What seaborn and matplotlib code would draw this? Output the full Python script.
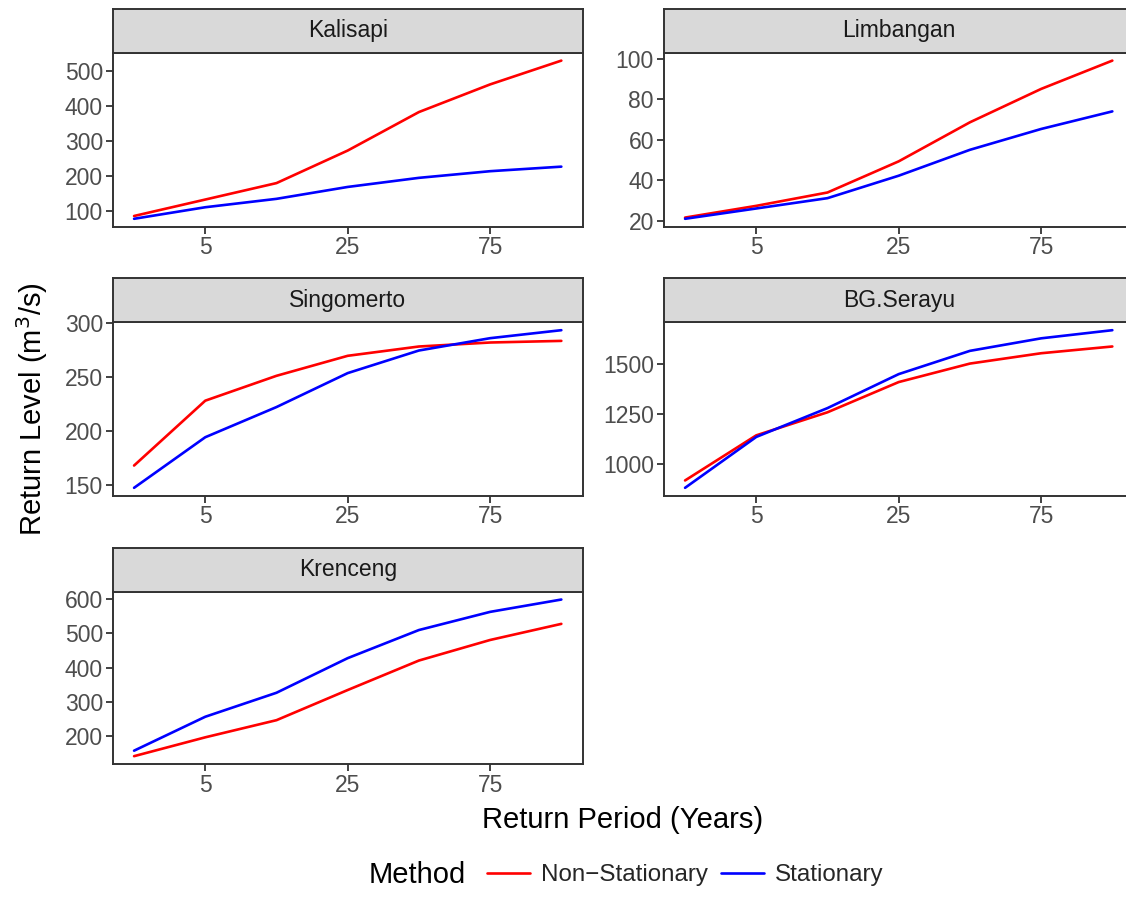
import numpy as np
import pandas as pd
import matplotlib
matplotlib.use("Agg")
import matplotlib.pyplot as plt
from matplotlib.lines import Line2D
import seaborn as sns

# Return periods (years), plotted as equally spaced categories
periods = [2, 5, 10, 25, 50, 75, 100]
tick_periods = [5, 25, 75]

stations = ["Kalisapi", "Limbangan", "Singomerto", "BG.Serayu", "Krenceng"]

# Return levels (m^3/s) per station
kalisapi_ns = [87, 134, 181, 274, 384, 463, 531]
kalisapi_st = [79, 112, 136, 170, 196, 215, 228]
limbangan_ns = [21.6, 27.4, 34.0, 49.4, 68.7, 85.2, 99.2]
limbangan_st = [21.0, 26.1, 31.2, 42.3, 55.1, 65.4, 74.1]
singomerto_ns = [168.4, 228.4, 251.4, 269.9, 278.5, 282.2, 283.7]
singomerto_st = [147.8, 194.6, 222.5, 253.9, 274.8, 286.2, 293.6]
serayu_ns = [915, 1142, 1258, 1410, 1503, 1555, 1589]
serayu_st = [878, 1134, 1279, 1450, 1567, 1630, 1671]
krenceng_ns = [142, 197, 247, 335, 421, 481, 528]
krenceng_st = [158, 257, 327, 428, 510, 563, 599]

methods = ["Non\u2212Stationary", "Stationary"]
palette = {methods[0]: "#FF0000", methods[1]: "#0000FF"}

series = {
    "Kalisapi": (kalisapi_ns, kalisapi_st),
    "Limbangan": (limbangan_ns, limbangan_st),
    "Singomerto": (singomerto_ns, singomerto_st),
    "BG.Serayu": (serayu_ns, serayu_st),
    "Krenceng": (krenceng_ns, krenceng_st),
}

y_ticks = {
    "Kalisapi": [100, 200, 300, 400, 500],
    "Limbangan": [20, 40, 60, 80, 100],
    "Singomerto": [150, 200, 250, 300],
    "BG.Serayu": [1000, 1250, 1500],
    "Krenceng": [200, 300, 400, 500, 600],
}

rows = []
for st in stations:
    for m, vals in zip(methods, series[st]):
        for i, (p, v) in enumerate(zip(periods, vals)):
            rows.append({"Station": st, "Method": m, "pos": i + 1, "Period": p, "Level": v})
df = pd.DataFrame(rows)

sns.set_theme(style="white")
plt.rcParams["font.family"] = ["Liberation Sans", "DejaVu Sans"]

W, H = 1126, 915
fig = plt.figure(figsize=(W / 100, H / 100), dpi=100)

dark = "#333333"
tick_col = "#4D4D4D"

col_left = [112.7, 663.7]
panel_w = 470
row_box = [(52.7, 226.7), (322.3, 495.7), (591.7, 764.0)]
strip_h = 44

def fx(px):
    return px / W

def fy(px):
    return 1 - px / H

for k, st in enumerate(stations):
    r, c = divmod(k, 2)
    top, bot = row_box[r]
    left = col_left[c]
    ax = fig.add_axes([fx(left), fy(bot), fx(panel_w), (bot - top) / H])
    sub = df[df["Station"] == st]
    sns.lineplot(data=sub, x="pos", y="Level", hue="Method", palette=palette,
                 hue_order=methods, ax=ax, legend=False, linewidth=1.9,
                 estimator=None, sort=True)
    lo, hi = sub["Level"].min(), sub["Level"].max()
    pad = (hi - lo) * 0.05
    ax.set_ylim(lo - pad, hi + pad)
    ax.set_xlim(1 - 0.3, 7 + 0.3)
    ax.set_xticks([periods.index(p) + 1 for p in tick_periods])
    ax.set_xticklabels([str(p) for p in tick_periods])
    ax.set_yticks(y_ticks[st])
    ax.set_xlabel("")
    ax.set_ylabel("")
    ax.tick_params(axis="both", which="major", length=5, width=1.3, color=dark,
                   labelsize=16.5, labelcolor=tick_col, pad=2, direction="out",
                   bottom=True, left=True)
    for sp in ax.spines.values():
        sp.set_color(dark)
        sp.set_linewidth(1.4)
    ax.set_facecolor("white")

    sax = fig.add_axes([fx(left), fy(top), fx(panel_w), strip_h / H])
    sax.set_facecolor("#D9D9D9")
    sax.set_xticks([])
    sax.set_yticks([])
    for sp in sax.spines.values():
        sp.set_color(dark)
        sp.set_linewidth(1.4)
    sax.text(0.5, 0.5, st, transform=sax.transAxes, ha="center", va="center",
             fontsize=16.5, color="#1A1A1A")

fig.text(fx(32), fy(409), "Return Level (m$^3$/s)", rotation=90, ha="center",
         va="center", fontsize=21, color="black")
fig.text(fx(623), fy(820), "Return Period (Years)", ha="center", va="center",
         fontsize=21, color="black")

fig.text(fx(369), fy(875), "Method", ha="left", va="center", fontsize=21,
         color="black")
handles = [Line2D([0], [0], color=palette[m], linewidth=1.9) for m in methods]
fig.legend(handles, methods, loc="center left", bbox_to_anchor=(fx(487), fy(875)),
           ncol=2, frameon=False, fontsize=17.4, handlelength=1.78,
           handletextpad=0.45, columnspacing=0.54, borderpad=0, borderaxespad=0)

fig.savefig("out.png", dpi=100, facecolor="white")
